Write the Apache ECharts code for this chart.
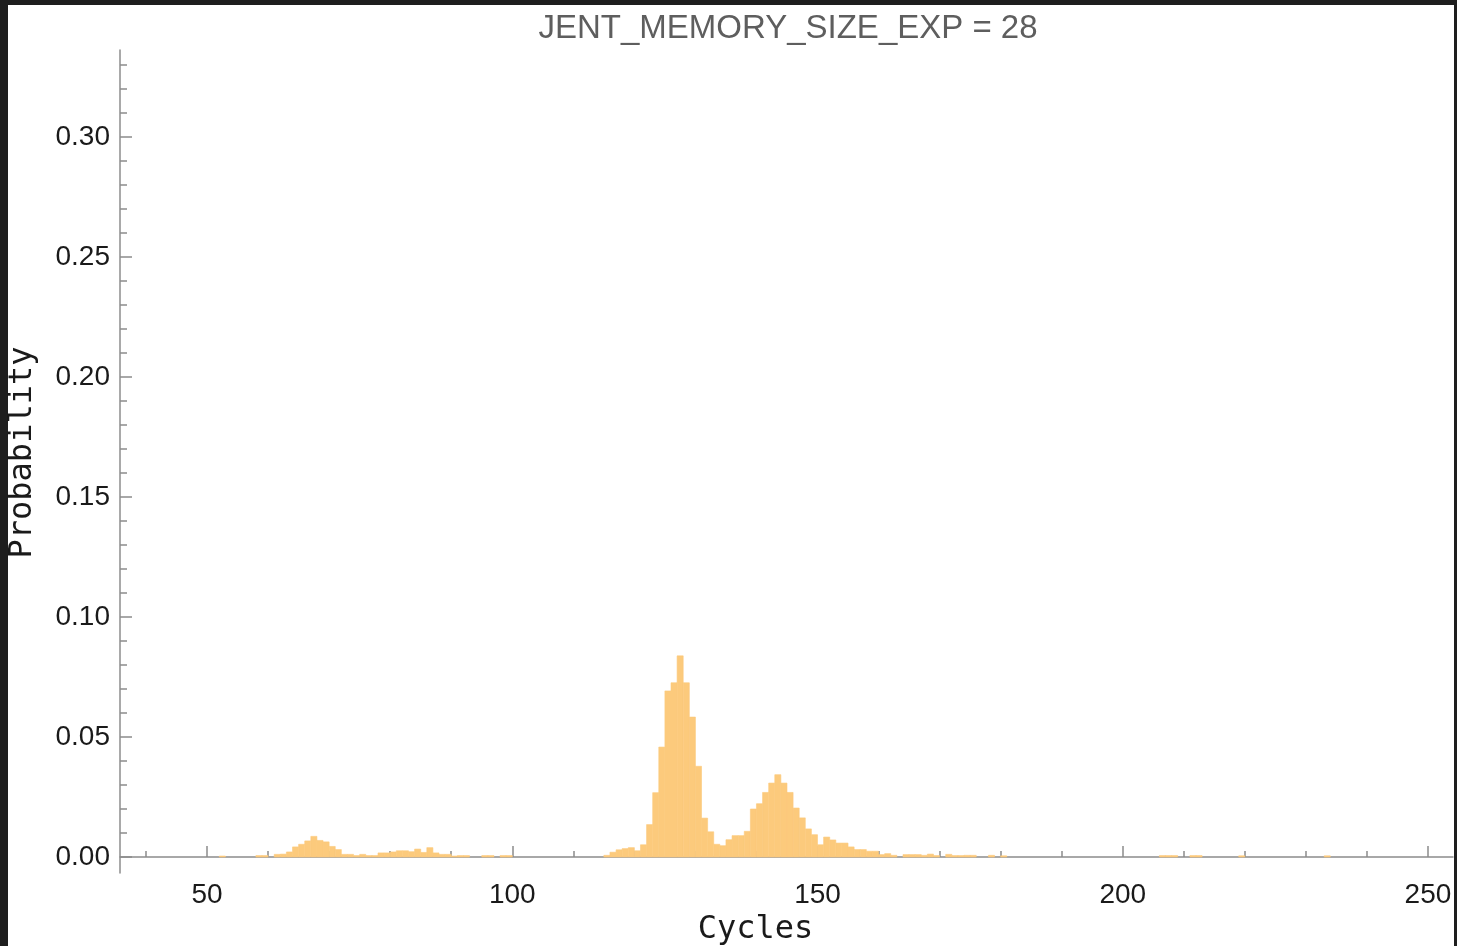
<!DOCTYPE html>
<html>
<head>
<meta charset="utf-8">
<script src="https://cdn.jsdelivr.net/npm/echarts@6/dist/echarts.min.js"></script>
<style>
  html, body { margin: 0; padding: 0; background: #1e1e1e; }
  .paper { position: absolute; left: 8px; top: 5px; width: 1446px; height: 941px; background: #fff; }
  #chart { position: absolute; left: 0; top: 0; width: 1457px; height: 946px; }
</style>
</head>
<body>
<div class="paper"></div>
<div id="chart"></div>
<script>
// histogram bins (left edge, width 1 cycle)
const cycles = [52, 58, 59, 61, 62, 63, 64, 65, 66, 67, 68, 69, 70, 71, 72, 73, 74, 75, 76, 77,
  78, 79, 80, 81, 82, 83, 84, 85, 86, 87, 88, 89, 90, 91, 92, 95, 96, 98, 99,
  115, 116, 117, 118, 119, 120, 121, 122, 123, 124, 125, 126, 127, 128, 129, 130,
  131, 132, 133, 134, 135, 136, 137, 138, 139, 140, 141, 142, 143, 144, 145, 146,
  147, 148, 149, 150, 151, 152, 153, 154, 155, 156, 157, 158, 159, 160, 161, 162,
  164, 165, 166, 167, 168, 169, 171, 172, 173, 174, 175, 178, 180,
  206, 207, 208, 211, 212, 219, 233]
const probability = [0.0004, 0.0006, 0.0006, 0.0011, 0.0012, 0.0021, 0.0042, 0.0053, 0.0067, 0.0086, 0.0069, 0.0063, 0.0044, 0.0031, 0.0011, 0.0011, 0.0006, 0.0011, 0.0006, 0.0006,
  0.0017, 0.0017, 0.0021, 0.0026, 0.0026, 0.0022, 0.0033, 0.0019, 0.0039, 0.0017, 0.0011, 0.0011, 0.0004, 0.0006, 0.0006, 0.0006, 0.0006, 0.0006, 0.0006,
  0.0007, 0.002, 0.003, 0.0035, 0.0039, 0.0026, 0.0051, 0.0135, 0.0268, 0.0458, 0.0692, 0.0726, 0.0838, 0.0726, 0.0583, 0.0378,
  0.0162, 0.0105, 0.0053, 0.0047, 0.0072, 0.0089, 0.0089, 0.0107, 0.02, 0.0222, 0.0269, 0.0308, 0.0343, 0.0308, 0.0269, 0.0204,
  0.0163, 0.0117, 0.0093, 0.0051, 0.0083, 0.0071, 0.0058, 0.0058, 0.0042, 0.0031, 0.0031, 0.0024, 0.0024, 0.001, 0.0014, 0.0007,
  0.001, 0.001, 0.001, 0.0007, 0.0012, 0.0006, 0.0011, 0.0006, 0.0006, 0.0007, 0.0007, 0.0007, 0.0005,
  0.0006, 0.0006, 0.0006, 0.0006, 0.0006, 0.0005, 0.0005]
const binWidth = 1

const xLabels = [50, 100, 150, 200, 250]
const xMinorTicks = [40, 60, 70, 80, 90, 110, 120, 130, 140, 160, 170, 180, 190, 210, 220, 230, 240]
const yLabels = [0, 0.05, 0.10, 0.15, 0.20, 0.25, 0.30]
const yMinorTicks = [0.01, 0.02, 0.03, 0.04, 0.06, 0.07, 0.08, 0.09, 0.11, 0.12, 0.13, 0.14,
  0.16, 0.17, 0.18, 0.19, 0.21, 0.22, 0.23, 0.24, 0.26, 0.27, 0.28, 0.29, 0.31, 0.32, 0.33]

const data = cycles.map((c, i) => [c, probability[i]])

const axisGray = '#8c8c8c'
const barColor = '#fcca7c'
const labelFont = {fontFamily: 'Liberation Sans', fontSize: 28, color: '#1a1a1a'}

const option = {
  animation: false,
  backgroundColor: 'transparent',
  title: {
    text: 'JENT_MEMORY_SIZE_EXP = 28',
    left: 783,
    textAlign: 'center',
    top: 7,
    textStyle: {fontFamily: 'Liberation Sans', fontSize: 33, fontWeight: 'normal', color: '#5e5e5e'}
  },
  grid: {left: 120, right: 4, top: 50, bottom: 73, outerBoundsMode: 'none', containLabel: false},
  xAxis: [
    {
      type: 'value',
      min: 35.74,
      max: 254.1,
      name: 'Cycles',
      nameLocation: 'middle',
      nameGap: 34,
      nameTextStyle: {fontFamily: 'DejaVu Sans Mono', fontSize: 32, color: '#1a1a1a', padding: [0, 62, 0, 0]},
      axisLine: {onZero: true, lineStyle: {color: axisGray, width: 1.5}},
      axisTick: {inside: true, length: 11, customValues: xLabels, lineStyle: {color: axisGray, width: 1.5}},
      axisLabel: {customValues: xLabels, margin: 8, ...labelFont},
      splitLine: {show: false}
    },
    {
      type: 'value',
      min: 35.74,
      max: 254.1,
      position: 'bottom',
      axisLine: {show: false, onZero: true},
      axisTick: {inside: true, length: 6, customValues: xMinorTicks, lineStyle: {color: axisGray, width: 1.5}},
      axisLabel: {show: false},
      splitLine: {show: false}
    }
  ],
  yAxis: [
    {
      type: 'value',
      min: -0.00667,
      max: 0.33625,
      name: 'Probability',
      nameLocation: 'middle',
      nameGap: 81,
      nameTextStyle: {fontFamily: 'DejaVu Sans Mono', fontSize: 32, color: '#1a1a1a', padding: [0, 0, 0, 18]},
      axisLine: {show: true, onZero: false, lineStyle: {color: axisGray, width: 1.5}},
      axisTick: {show: true, inside: true, length: 12, customValues: yLabels, lineStyle: {color: axisGray, width: 1.5}},
      axisLabel: {customValues: yLabels, margin: 10, formatter: v => v.toFixed(2), ...labelFont},
      splitLine: {show: false}
    },
    {
      type: 'value',
      min: -0.00667,
      max: 0.33625,
      position: 'left',
      axisLine: {show: false, onZero: false},
      axisTick: {show: true, inside: true, length: 7, customValues: yMinorTicks, lineStyle: {color: axisGray, width: 1.5}},
      axisLabel: {show: false},
      splitLine: {show: false}
    }
  ],
  series: [
    {
      type: 'custom',
      xAxisIndex: 0,
      yAxisIndex: 0,
      data: data,
      renderItem: function (params, api) {
        const x0 = api.value(0)
        const v = api.value(1)
        const p0 = api.coord([x0, v])
        const p1 = api.coord([x0 + binWidth, 0])
        return {
          type: 'rect',
          shape: {x: p0[0], y: p0[1], width: p1[0] - p0[0], height: p1[1] - p0[1]},
          style: {fill: barColor, stroke: barColor, lineWidth: 0.6}
        }
      }
    }
  ]
}

const myChart = echarts.init(document.getElementById('chart'))
myChart.setOption(option)
</script>
</body>
</html>
